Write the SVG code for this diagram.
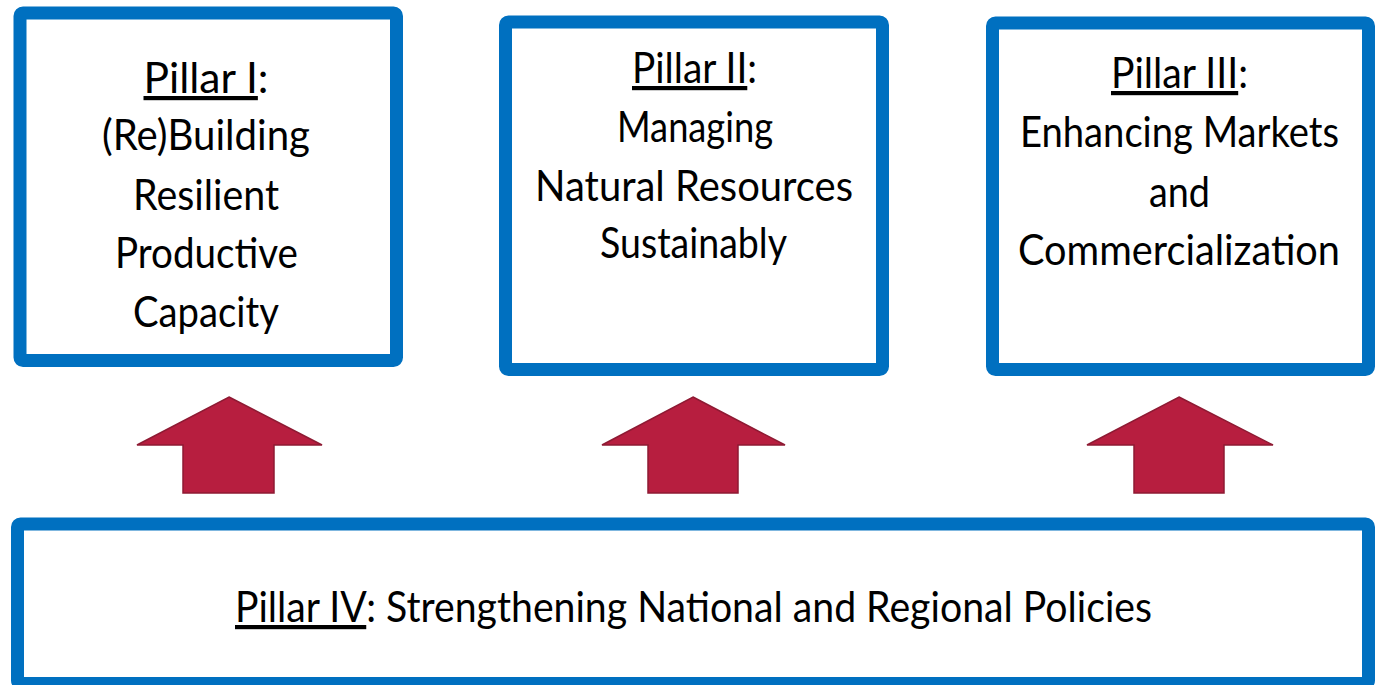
<svg xmlns="http://www.w3.org/2000/svg" width="1375" height="685" viewBox="0 0 1375 685">
<style>
.box{fill:#ffffff;stroke:#0070C0;stroke-width:13;}
.t{font-family:Lato,"Open Sans","Liberation Sans",sans-serif;font-size:42px;fill:#000000;text-anchor:middle;}
.u{text-decoration:underline;}
.arr{fill:#B71E3F;stroke:#8E1A33;stroke-width:1.5;stroke-linejoin:miter;}
</style>
<rect width="1375" height="685" fill="#ffffff"/>
<g id="pillar1">
<rect class="box" x="20" y="13" width="376.5" height="347.5" rx="3"/>
<text class="t" x="206" y="93" textLength="125" lengthAdjust="spacingAndGlyphs"><tspan class="u">Pillar I</tspan>:</text>
<text class="t" x="206" y="150" textLength="208" lengthAdjust="spacingAndGlyphs">(Re)Building</text>
<text class="t" x="206" y="210" textLength="146" lengthAdjust="spacingAndGlyphs">Resilient</text>
<text class="t" x="206.5" y="268" textLength="183" lengthAdjust="spacingAndGlyphs">Productive</text>
<text class="t" x="206" y="327" textLength="146" lengthAdjust="spacingAndGlyphs">Capacity</text>
</g>
<g id="pillar2">
<rect class="box" x="505.5" y="22" width="377" height="347.5" rx="3"/>
<text class="t" x="694.5" y="83" textLength="125" lengthAdjust="spacingAndGlyphs"><tspan class="u">Pillar II</tspan>:</text>
<text class="t" x="695" y="142" textLength="156" lengthAdjust="spacingAndGlyphs">Managing</text>
<text class="t" x="694" y="201" textLength="318" lengthAdjust="spacingAndGlyphs">Natural Resources</text>
<text class="t" x="693.5" y="258" textLength="187" lengthAdjust="spacingAndGlyphs">Sustainably</text>
</g>
<g id="pillar3">
<rect class="box" x="992.5" y="23" width="376" height="346.5" rx="3"/>
<text class="t" x="1179.5" y="88" textLength="137" lengthAdjust="spacingAndGlyphs"><tspan class="u">Pillar III</tspan>:</text>
<text class="t" x="1179.5" y="147" textLength="319" lengthAdjust="spacingAndGlyphs">Enhancing Markets</text>
<text class="t" x="1179.5" y="207" textLength="61" lengthAdjust="spacingAndGlyphs">and</text>
<text class="t" x="1179" y="265" textLength="322" lengthAdjust="spacingAndGlyphs">Commercialization</text>
</g>
<g id="pillar4">
<rect class="box" x="17.5" y="524" width="1351" height="159.5" rx="3"/>
<text class="t" x="693.5" y="622" textLength="917" lengthAdjust="spacingAndGlyphs"><tspan class="u">Pillar IV</tspan>: Strengthening National and Regional Policies</text>
</g>
<g id="connectors">
<polygon class="arr" points="229,397 322,445 274,445 274,493 183,493 183,445 137,445"/>
<polygon class="arr" points="693,397 785,445 738,445 738,493 648,493 648,445 602,445"/>
<polygon class="arr" points="1179,397 1273,445 1224,445 1224,493 1134,493 1134,445 1087,445"/>
</g>
</svg>
